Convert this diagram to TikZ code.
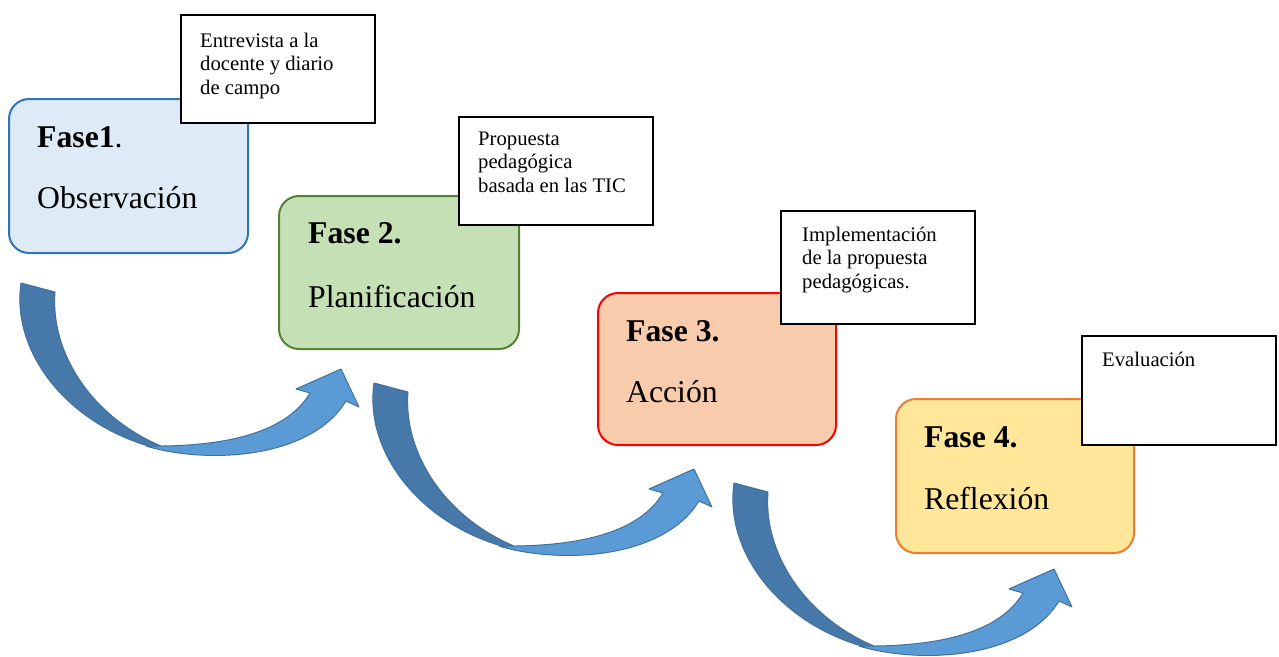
\documentclass[tikz,border=0pt]{standalone}
\usepackage{fontspec}
\setmainfont{Liberation Serif}
\definecolor{b1fill}{HTML}{DEEBF7}
\definecolor{b1line}{HTML}{2E75B6}
\definecolor{b2fill}{HTML}{C5E0B4}
\definecolor{b2line}{HTML}{548235}
\definecolor{b3fill}{HTML}{F8CBAD}
\definecolor{b3line}{HTML}{FF0000}
\definecolor{b4fill}{HTML}{FFE699}
\definecolor{b4line}{HTML}{ED7D31}
\definecolor{arrowdark}{HTML}{4678AA}
\definecolor{arrowlight}{HTML}{5B9BD5}
\definecolor{arrowline}{HTML}{41719C}
\newcommand{\bluearrow}[1]{%
\begin{scope}[shift={#1}]
\path[fill=arrowdark, draw=arrowline, line width=1pt, line join=round]
  (21,283) -- (55,292) .. controls (50,355) and (95,425) .. (178,452.5)
  .. controls (80,438) and (10,360) .. (21,283) -- cycle;
\path[fill=arrowlight, draw=arrowline, line width=1pt, line join=round]
  (146,446) .. controls (205,464) and (310,460) .. (346,401)
  -- (359,407) -- (341,369) -- (296,389) -- (310,393)
  .. controls (285,435) and (220,447) .. (146,446) -- cycle;
\end{scope}}
\begin{document}
\begin{tikzpicture}[x=1pt,y=-1pt,
  phasebox/.style={draw, line width=2pt, rounded corners=20pt, inner sep=0pt, anchor=north west},
  notebox/.style={draw=black, line width=1.6pt, fill=white, inner sep=0pt, anchor=north west, minimum width=194pt},
  big/.style={anchor=base west, inner sep=0pt, font=\fontsize{31.7}{38}\selectfont},
  small/.style={anchor=base west, inner sep=0pt, font=\fontsize{20.7}{23.7}\selectfont}]
\useasboundingbox (0,0) rectangle (1279,656);
\fill[white] (0,0) rectangle (1279,656);

% arrows
\bluearrow{(0,0)}
\bluearrow{(353,100)}
\bluearrow{(713,200)}

% phase boxes
\node[phasebox, fill=b1fill, draw=b1line, minimum width=239pt, minimum height=154pt] (f1) at (8,98) {};
\node[phasebox, fill=b2fill, draw=b2line, minimum width=240pt, minimum height=153pt] (f2) at (278,195) {};
\node[phasebox, fill=b3fill, draw=b3line, minimum width=238pt, minimum height=152pt] (f3) at (597,292) {};
\node[phasebox, fill=b4fill, draw=b4line, minimum width=238pt, minimum height=154pt] (f4) at (895,398) {};

\node[big] (f1a) at (37,147) {\textbf{Fase1}.};
\node[big] (f1b) at (37,208) {Observación};
\node[big] (f2a) at (308,243) {\textbf{Fase 2.}};
\node[big] (f2b) at (308,307) {Planificación};
\node[big] (f3a) at (626,341) {\textbf{Fase 3.}};
\node[big] (f3b) at (626,402) {Acción};
\node[big] (f4a) at (924,447) {\textbf{Fase 4.}};
\node[big] (f4b) at (924,509) {Reflexión};

% note boxes
\node[notebox, minimum height=108pt] (n1) at (180,14) {};
\node[notebox, minimum height=108pt] (n2) at (458,116) {};
\node[notebox, minimum height=113pt] (n3) at (780,210) {};
\node[notebox, minimum height=109pt] (n4) at (1081,335) {};

\node[small] (n1a) at (200,47) {Entrevista a la};
\node[small] (n1b) at (200,70.7) {docente y diario};
\node[small] (n1c) at (200,94.4) {de campo};
\node[small] (n2a) at (478,145) {Propuesta};
\node[small] (n2b) at (478,168.7) {pedagógica};
\node[small] (n2c) at (478,192.4) {basada en las TIC};
\node[small] (n3a) at (802,241) {Implementación};
\node[small] (n3b) at (802,264.7) {de la propuesta};
\node[small] (n3c) at (802,288.4) {pedagógicas.};
\node[small] (n4a) at (1102,366) {Evaluación};
\end{tikzpicture}
\end{document}
